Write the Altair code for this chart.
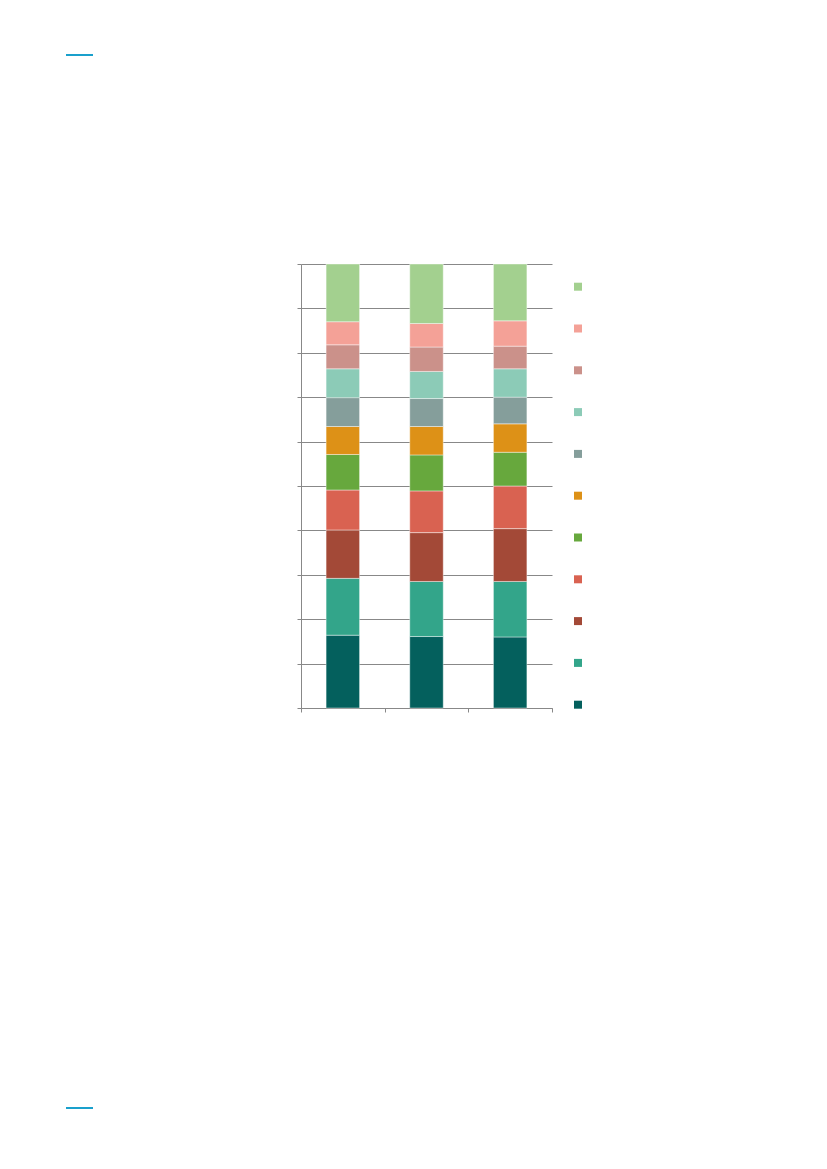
import altair as alt
import pandas as pd

# Categories on the x axis (labels not shown in the reference)
bars = ["1", "2", "3"]

# Series, listed from the bottom of each stack to the top
series = ["S1", "S2", "S3", "S4", "S5", "S6", "S7", "S8", "S9", "S10", "S11"]
colors = ["#04605d", "#33a58a", "#a34937", "#d96251", "#67a83d", "#dd9117",
          "#859e9b", "#8ccbb7", "#cb918a", "#f4a197", "#a3d08f"]

# Percent values per series (bar 1, bar 2, bar 3)
s1 = [16.4, 16.1, 16.0]
s2 = [12.8, 12.4, 12.5]
s3 = [10.9, 11.0, 11.9]
s4 = [9.0, 9.4, 9.6]
s5 = [8.0, 8.1, 7.6]
s6 = [6.3, 6.4, 6.4]
s7 = [6.5, 6.3, 6.0]
s8 = [6.5, 6.1, 6.4]
s9 = [5.4, 5.5, 5.1]
s10 = [5.2, 5.3, 5.7]
s11 = [13.0, 13.4, 12.8]
values = [s1, s2, s3, s4, s5, s6, s7, s8, s9, s10, s11]

rows = []
for i, (name, vals) in enumerate(zip(series, values)):
    for b, v in zip(bars, vals):
        rows.append({"bar": b, "series": name, "order": i, "value": v})
df = pd.DataFrame(rows)

grey = "#888888"

bar_chart = alt.Chart(df).mark_bar(
    width=alt.RelativeBandSize(0.4), stroke="white", strokeWidth=0.6, strokeOpacity=0.7
).encode(
    x=alt.X("bar:N", sort=bars, title=None,
            scale=alt.Scale(paddingInner=0, paddingOuter=0),
            axis=alt.Axis(labels=False, tickBand="extent", tickSize=4, tickColor=grey,
                          domainColor=grey, grid=False)),
    y=alt.Y("value:Q", stack="zero", title=None,
            scale=alt.Scale(domain=[0, 100], nice=False),
            axis=alt.Axis(labels=False, values=list(range(0, 101, 10)), tickSize=4,
                          tickColor=grey, domainColor=grey, gridColor=grey,
                          gridWidth=1, gridOpacity=1)),
    color=alt.Color("series:N",
                    scale=alt.Scale(domain=series[::-1], range=colors[::-1]),
                    legend=alt.Legend(title=None, orient="none", legendX=273, legendY=18.7,
                                      symbolType="square", symbolSize=64,
                                      symbolStrokeWidth=0, labelExpr="''",
                                      labelFontSize=8, rowPadding=33.8)),
    order=alt.Order("order:Q", sort="ascending"),
)

deco = pd.DataFrame({"k": [0]})
top_line = alt.Chart(deco).mark_rule(color="#1aa0cc", strokeWidth=2).encode(
    x=alt.value(-235), x2=alt.value(-208), y=alt.value(-209))
bottom_line = alt.Chart(deco).mark_rule(color="#1aa0cc", strokeWidth=2).encode(
    x=alt.value(-235), x2=alt.value(-208), y=alt.value(844))

chart = alt.layer(bar_chart, top_line, bottom_line).properties(
    width=251, height=444,
    autosize=alt.AutoSizeParams(type="none"),
    padding={"left": 293, "top": 256, "right": 60, "bottom": 410},
).configure_view(stroke="transparent")

chart.save("out.html", embed_options={"renderer": "svg", "actions": False})
